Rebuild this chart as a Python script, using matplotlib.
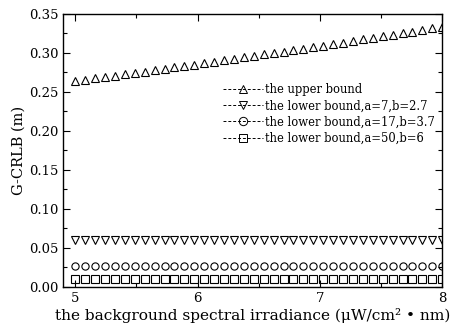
import numpy as np
import matplotlib
matplotlib.use('Agg')
import matplotlib.pyplot as plt
from matplotlib.ticker import MultipleLocator

plt.rcParams['font.family'] = ['DejaVu Serif']
plt.rcParams['mathtext.fontset'] = 'dejavuserif'

#  background spectral irradiance grid (38 samples between 5 and 8)
x = np.linspace(5, 8, 38)

#  G-CRLB values
upper = [0.2640, 0.2657, 0.2674, 0.2692, 0.2709, 0.2726, 0.2744, 0.2761,
         0.2779, 0.2797, 0.2815, 0.2833, 0.2851, 0.2869, 0.2887, 0.2906,
         0.2924, 0.2943, 0.2961, 0.2980, 0.2999, 0.3018, 0.3037, 0.3056,
         0.3075, 0.3094, 0.3114, 0.3133, 0.3153, 0.3172, 0.3192, 0.3212,
         0.3232, 0.3252, 0.3272, 0.3292, 0.3313, 0.3333]
lower_a7 = [0.060] * 38
lower_a17 = [0.027] * 38
lower_a50 = [0.010] * 38

labels = ['the upper bound',
          'the lower bound,a=7,b=2.7',
          'the lower bound,a=17,b=3.7',
          'the lower bound,a=50,b=6']
markers = ['^', 'v', 'o', 's']

fig = plt.figure(figsize=(4.54, 3.31), dpi=100)
ax = fig.add_axes([0.139, 0.133, 0.835, 0.825])

for ys, m, lab in zip([upper, lower_a7, lower_a17, lower_a50], markers, labels):
    ax.plot(x, ys, linestyle='none', marker=m, markersize=5.2,
            markerfacecolor='none', markeredgecolor='black',
            markeredgewidth=0.8, label=lab)

#  legend handles: dashed line through an open marker
handles = [plt.Line2D([], [], color='black', linestyle=(0, (3, 2)),
                      linewidth=0.7, marker=m, markersize=6,
                      markerfacecolor='none', markeredgewidth=0.7)
           for m in markers]
ax.legend(handles, labels, loc='upper left', bbox_to_anchor=(0.41, 0.763),
          frameon=False, fontsize=8.3, handlelength=3.5, handletextpad=0.1,
          labelspacing=0.27, borderaxespad=0)

ax.set_xlim(4.9, 8.0)
ax.set_ylim(0, 0.35)
ax.xaxis.set_major_locator(MultipleLocator(1))
ax.xaxis.set_minor_locator(MultipleLocator(0.5))
ax.yaxis.set_major_locator(MultipleLocator(0.05))
ax.yaxis.set_minor_locator(MultipleLocator(0.025))
ax.yaxis.set_major_formatter(plt.FormatStrFormatter('%.2f'))
ax.tick_params(which='both', direction='in', top=True, right=True,
               labelsize=9.5, width=0.8)
ax.tick_params(which='major', length=5)
ax.tick_params(which='minor', length=3)
for s in ax.spines.values():
    s.set_linewidth(1.0)

ax.set_xlabel('the background spectral irradiance (\u03bcW/cm\u00b2 \u2022 nm)',
              fontsize=11.1, labelpad=2)
ax.set_ylabel('G-CRLB (m)', fontsize=10.5, labelpad=2)

fig.savefig('out.png', dpi=100)
